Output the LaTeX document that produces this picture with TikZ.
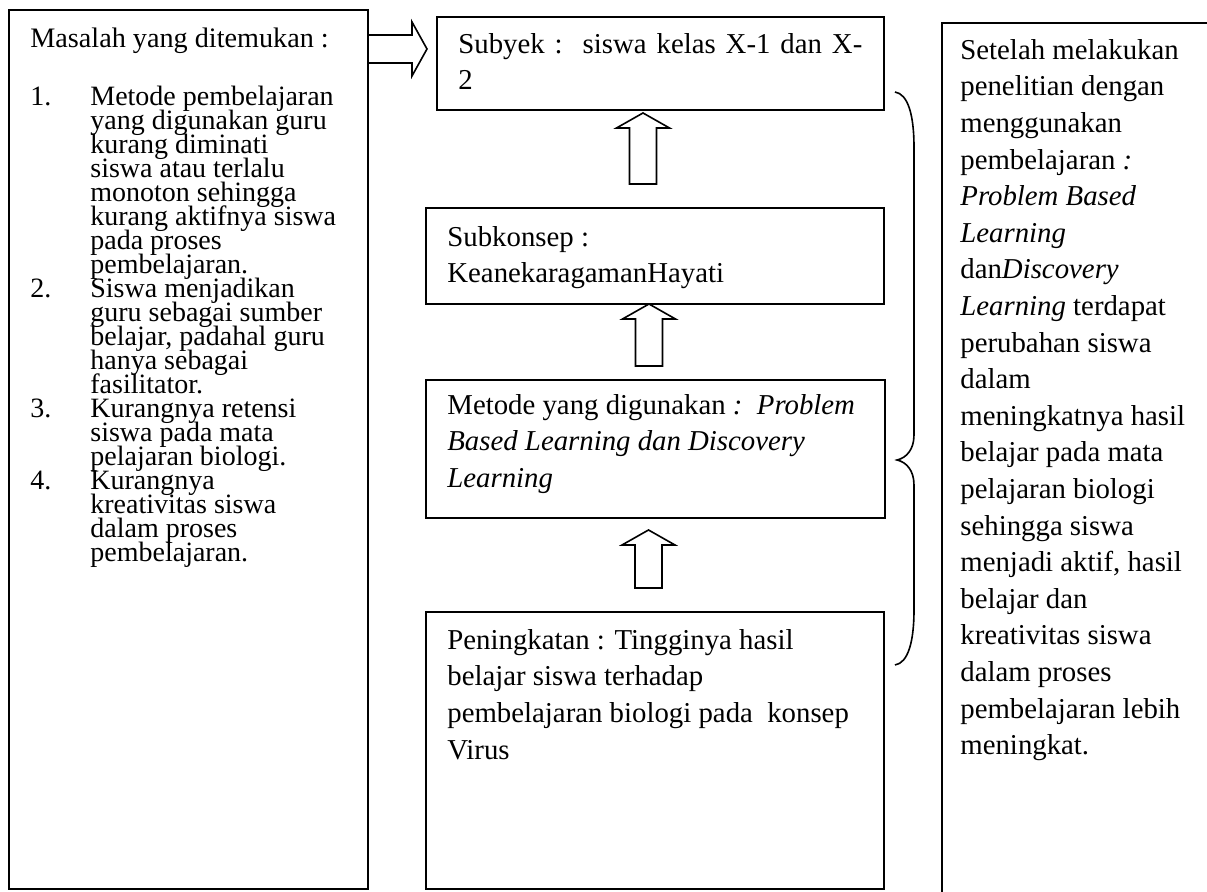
\documentclass[tikz,border=0pt]{standalone}
\usepackage{fontspec}
\setmainfont{Liberation Serif}
\usetikzlibrary{calc}
\lineskiplimit=-\maxdimen
\newcommand{\nomor}[1]{\makebox[30pt][l]{#1}}
\tikzset{
	kotak/.style={draw, line width=1pt, inner sep=0pt, outer sep=0pt},
	teks/.style={anchor=north west, inner sep=0pt, align=left,
			execute at begin node={\rule{0pt}{11pt}},
			font=\fontsize{14.4}{18.3}\selectfont},
	teksrapat/.style={teks, font=\fontsize{14}{12}\selectfont},
	panahatas/.style={draw, line width=0.8pt, fill=white,
			to path={let \p1=(\tikztostart), \p2=(\tikztotarget) in
					(\x1-6.75pt,\y1) -- (\x1-6.75pt,\y2-7.5pt) -- (\x1-13.25pt,\y2-7.5pt)
					-- (\x1,\y2) -- (\x1+13.25pt,\y2-7.5pt) -- (\x1+6.75pt,\y2-7.5pt)
					-- (\x1+6.75pt,\y1) -- cycle}},
	panahkanan/.style={draw, line width=0.8pt, fill=white,
			to path={let \p1=(\tikztostart), \p2=(\tikztotarget) in
					(\x1,\y1+7pt) -- (\x2-7.5pt,\y1+7pt) -- (\x2-7.5pt,\y1+13.5pt)
					-- (\x2,\y1) -- (\x2-7.5pt,\y1-13.5pt) -- (\x2-7.5pt,\y1-7pt)
					-- (\x1,\y1-7pt) -- cycle}}
}

\begin{document}
\begin{tikzpicture}[x=0.5pt,y=-0.5pt]
	\useasboundingbox (0,0) rectangle (1207,892);
	\clip (0,0) rectangle (1207,892);
	% Boxes
	\node[kotak, minimum width=179.5pt, minimum height=439.5pt] (masalah) at (188.5,449.5) {};
	\node[kotak, minimum width=223.5pt, minimum height=46.5pt] (subyek) at (660.5,63.5) {};
	\node[kotak, minimum width=229pt, minimum height=48pt] (subkonsep) at (655,256) {};
	\node[kotak, minimum width=229.5pt, minimum height=69pt] (metode) at (655.5,449) {};
	\node[kotak, minimum width=229pt, minimum height=138.5pt] (peningkatan) at (655,750.5) {};
	\node[kotak, minimum width=149pt, minimum height=448.5pt] (hasil) at (1091,471.5) {};
	% Texts
	\node[teks, font=\fontsize{14.1}{18.3}\selectfont] (judulmasalah) at (30,25) {Masalah yang ditemukan :};
	\node[teksrapat] (isimasalah) at (30,86) {\nomor{1.}Metode pembelajaran\\
		\nomor{}yang digunakan guru\\
		\nomor{}kurang diminati\\
		\nomor{}siswa atau terlalu\\
		\nomor{}monoton sehingga\\
		\nomor{}kurang aktifnya siswa\\
		\nomor{}pada proses\\
		\nomor{}pembelajaran.\\
		\nomor{2.}Siswa menjadikan\\
		\nomor{}guru sebagai sumber\\
		\nomor{}belajar, padahal guru\\
		\nomor{}hanya sebagai\\
		\nomor{}fasilitator.\\
		\nomor{3.}Kurangnya retensi\\
		\nomor{}siswa pada mata\\
		\nomor{}pelajaran biologi.\\
		\nomor{4.}Kurangnya\\
		\nomor{}kreativitas siswa\\
		\nomor{}dalam proses\\
		\nomor{}pembelajaran.};
	\node[teks] (isisubyek) at (458,33) {\makebox[202pt][s]{Subyek :\ \ siswa kelas X-1 dan X-}\\2};
	\node[teks] (isisubkonsep) at (447,226) {Subkonsep :\\KeanekaragamanHayati};
	\node[teks] (isimetode) at (447,394) {Metode yang digunakan \textit{:}\ \ \textit{Problem}\\
		\textit{Based Learning dan Discovery}\\
		\textit{Learning}};
	\node[teks] (isipeningkatan) at (447,629) {Peningkatan : Tingginya hasil\\
		belajar siswa terhadap\\
		pembelajaran biologi pada\ \ konsep\\
		Virus};
	\node[teks] (isihasil) at (960,39) {Setelah melakukan\\
		penelitian dengan\\
		menggunakan\\
		pembelajaran \textit{:}\\
		\textit{Problem Based}\\
		\textit{Learning}\\
		dan\textit{Discovery}\\
		\textit{Learning} terdapat\\
		perubahan siswa\\
		dalam\\
		meningkatnya hasil\\
		belajar pada mata\\
		pelajaran biologi\\
		sehingga siswa\\
		menjadi aktif, hasil\\
		belajar dan\\
		kreativitas siswa\\
		dalam proses\\
		pembelajaran lebih\\
		meningkat.};
	% Block arrows
	\coordinate (jalur) at ([yshift=7.25pt]subyek.west);
	\draw[panahkanan] (masalah.east |- jalur) to ([xshift=-5pt]jalur);
	\draw[panahatas] ([xshift=-6pt,yshift=12pt]subkonsep.north) to ([xshift=-6pt,yshift=-1.5pt]subyek.south);
	\draw[panahatas] ([xshift=-3.25pt,yshift=7pt]metode.north) to ([xshift=-3.25pt]subkonsep.south);
	\draw[panahatas] ([xshift=-3.25pt,yshift=12pt]peningkatan.north) to ([xshift=-3.25pt,yshift=-6pt]metode.south);
	% Brace
	\draw[line width=0.8pt] (895,92) .. controls (908,94) and (914,115) .. (914,147) -- (914,435)
		.. controls (914,450) and (906,458) .. (897,460) .. controls (906,462) and (914,470) .. (914,485)
		-- (914,610) .. controls (914,642) and (908,663) .. (895,665);
\end{tikzpicture}
\end{document}
